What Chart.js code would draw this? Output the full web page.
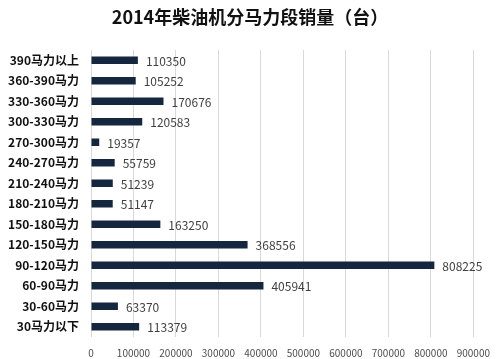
<!DOCTYPE html>
<html><head><meta charset="utf-8">
<script src="https://cdn.jsdelivr.net/npm/chart.js@4/dist/chart.umd.min.js"></script>
<style>html,body{margin:0;padding:0;background:#fff}#wrap{width:500px;height:359px}</style>
</head><body><div id="wrap"><canvas id="c"></canvas></div>
<script>
const categories = ["390马力以上","360-390马力","330-360马力","300-330马力","270-300马力","240-270马力","210-240马力","180-210马力","150-180马力","120-150马力","90-120马力","60-90马力","30-60马力","30马力以下"];
const sales = [110350,105252,170676,120583,19357,55759,51239,51147,163250,368556,808225,405941,63370,113379];
const titleText = "2014年柴油机分马力段销量（台）";
const FONT = "'Noto Sans CJK SC','Noto Sans',sans-serif";

const valueLabels = {
  id: 'valueLabels',
  afterDatasetsDraw(chart) {
    const ctx = chart.ctx;
    const meta = chart.getDatasetMeta(0);
    ctx.save();
    ctx.font = "12px " + FONT;
    ctx.fillStyle = "#404040";
    ctx.textBaseline = "middle";
    ctx.textAlign = "left";
    meta.data.forEach((el, i) => {
      ctx.fillText(String(sales[i]), el.x + 8, el.y + 1);
    });
    ctx.restore();
  }
};

const centerTitle = {
  id: 'centerTitle',
  afterDraw(chart) {
    const ctx = chart.ctx;
    ctx.save();
    ctx.font = "bold 18px " + FONT;
    ctx.fillStyle = "#111";
    ctx.textAlign = "center";
    ctx.textBaseline = "middle";
    ctx.fillText(titleText, chart.width / 2, 17);
    ctx.restore();
  }
};

new Chart(document.getElementById('c'), {
  type: 'bar',
  data: { labels: categories, datasets: [{ data: sales, backgroundColor: '#15273f', barPercentage: 0.37, categoryPercentage: 1 }] },
  options: {
    indexAxis: 'y',
    responsive: true, maintainAspectRatio: false, animation: false,
    layout: { padding: { left: 0, right: 26, top: 50, bottom: 0 } },
    plugins: {
      legend: { display: false }, tooltip: { enabled: false }, title: { display: false }
    },
    scales: {
      x: {
        min: 0, max: 900000,
        ticks: { stepSize: 100000, color: '#4d4d4d', font: { family: FONT, size: 10 }, padding: 10, maxRotation: 0,
                 callback: (v) => String(v) },
        grid: { color: '#d9d9d9', drawTicks: false },
        border: { display: false },
        afterFit(scale) { scale.height = 22; }
      },
      y: {
        ticks: { color: '#111', font: { family: FONT, size: 12, weight: 'bold' }, padding: 12 },
        grid: { display: false, drawTicks: false },
        border: { display: false },
        afterFit(scale) { scale.width = 91; }
      }
    }
  },
  plugins: [valueLabels, centerTitle]
});
</script></body></html>
